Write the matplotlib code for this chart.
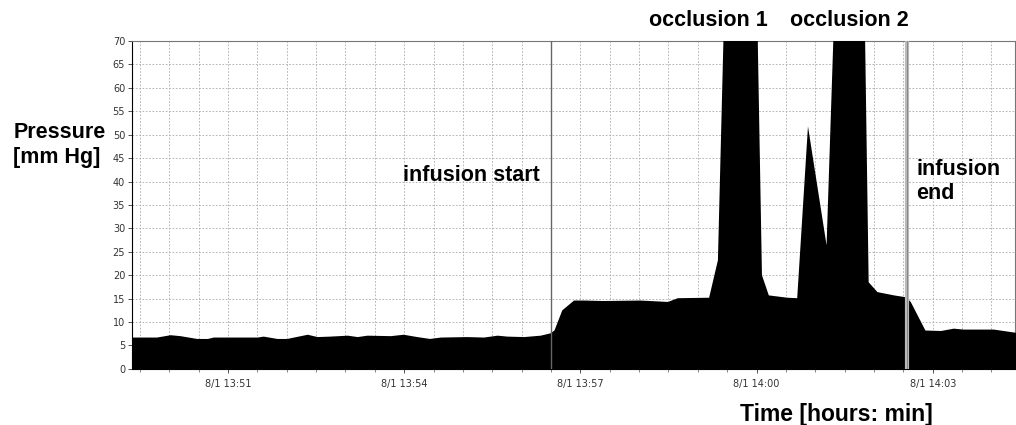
import numpy as np
import pandas as pd
import matplotlib
matplotlib.use("Agg")
import matplotlib.pyplot as plt
import matplotlib.dates as mdates

# pressure record, 1 August
times = ["13:49:22", "13:49:47", "13:50:01", "13:50:11", "13:50:28", "13:50:39",
         "13:50:45", "13:51:30", "13:51:36", "13:51:50", "13:52:00", "13:52:21",
         "13:52:31", "13:52:44", "13:53:02", "13:53:12", "13:53:22", "13:53:46",
         "13:53:59", "13:54:13", "13:54:26", "13:54:37", "13:55:04", "13:55:21",
         "13:55:35", "13:55:45", "13:56:02", "13:56:19", "13:56:29", "13:56:33",
         "13:56:41", "13:56:53", "13:57:03", "13:57:23", "13:58:01", "13:58:29",
         "13:58:39", "13:59:11", "13:59:20", "13:59:28", "13:59:59", "14:00:05",
         "14:00:12", "14:00:31", "14:00:41", "14:00:52", "14:01:11", "14:01:21",
         "14:01:49", "14:01:54", "14:02:03", "14:02:20", "14:02:32", "14:02:37",
         "14:02:52", "14:03:08", "14:03:21", "14:03:31", "14:04:02", "14:04:25"]
pressure = [6.8, 6.8, 7.3, 7.1, 6.5, 6.5,
            6.8, 6.8, 7.0, 6.5, 6.5, 7.4,
            6.9, 7.0, 7.2, 6.9, 7.2, 7.1,
            7.4, 6.9, 6.5, 6.8, 6.9, 6.8,
            7.2, 7.0, 6.9, 7.2, 7.7, 8.3,
            12.6, 14.7, 14.7, 14.6, 14.7, 14.4,
            15.2, 15.3, 23.3, 90.0, 90.0, 20.1,
            15.8, 15.3, 15.2, 51.9, 26.5, 90.0,
            90.0, 18.6, 16.5, 15.8, 15.4, 14.4,
            8.3, 8.2, 8.7, 8.5, 8.5, 7.8]

infusion_start = "13:56:30"
infusion_end = "14:02:34"
x_start, x_end = "13:49:22", "14:04:24"

def ts(s):
    return pd.Timestamp("2000-08-01 " + s)

t = pd.to_datetime(["2000-08-01 " + s for s in times])
y = np.array(pressure)

fig = plt.figure(figsize=(10.16, 4.25), dpi=100)
ax = fig.add_axes([0.130, 0.132, 0.869, 0.7715])

ax.fill_between(t, 0, y, color="black", lw=0, zorder=3)

ax.set_xlim(ts(x_start), ts(x_end))
ax.set_ylim(0, 70)
ax.set_yticks(np.arange(0, 71, 5))

ax.xaxis.set_major_locator(mdates.MinuteLocator(byminute=range(0, 60, 3)))
ax.xaxis.set_minor_locator(mdates.SecondLocator(bysecond=[0, 30]))
ax.xaxis.set_major_formatter(mdates.DateFormatter("8/1 %H:%M"))

tick_family = ["Liberation Sans Narrow", "DejaVu Sans"]
for lab in ax.get_xticklabels() + ax.get_yticklabels():
    lab.set_fontfamily(tick_family)
    lab.set_fontsize(7)
ax.tick_params(axis="both", which="major", length=3, width=0.6, pad=4, colors="#333333")
ax.tick_params(axis="x", which="minor", length=2, width=0.5, colors="#555555")
ax.tick_params(axis="y", pad=2)

ax.grid(True, which="major", axis="y", linestyle=(0, (2, 2)), color="#aaaaaa", lw=0.6)
ax.grid(True, which="both", axis="x", linestyle=(0, (2, 2)), color="#aaaaaa", lw=0.6)
ax.set_axisbelow(True)

for side in ["top", "right"]:
    ax.spines[side].set_color("#777777")
    ax.spines[side].set_linewidth(0.8)
for side in ["left", "bottom"]:
    ax.spines[side].set_color("black")
    ax.spines[side].set_linewidth(0.8)

ax.axvline(ts(infusion_start), color="#666666", lw=1.0, zorder=4)
ax.axvline(ts(infusion_end), color="#bbbbbb", lw=3.0, zorder=4)
ax.axvline(ts(infusion_end), color="#888888", lw=0.8, zorder=4)

bold = dict(family=["Liberation Sans", "DejaVu Sans"], weight="bold", size=15.5)
ax.text(ts("13:53:59"), 41.2, "infusion start", ha="left", va="center", **bold)
ax.text(ts("14:02:43"), 40.0, "infusion\nend", ha="left", va="center",
        linespacing=1.2, **bold)
ax.text(ts("13:58:10"), 74.3, "occlusion 1", ha="left", va="center", clip_on=False, **bold)
ax.text(ts("14:00:34"), 74.3, "occlusion 2", ha="left", va="center", clip_on=False, **bold)

fig.text(0.013, 0.659, "Pressure\n[mm Hg]", ha="left", va="center",
         linespacing=1.2, **bold)
fig.text(0.728, 0.024, "Time [hours: min]", ha="left", va="center",
         family=["Liberation Sans", "DejaVu Sans"], weight="bold", size=16.5)

fig.savefig("out.png", dpi=100)
